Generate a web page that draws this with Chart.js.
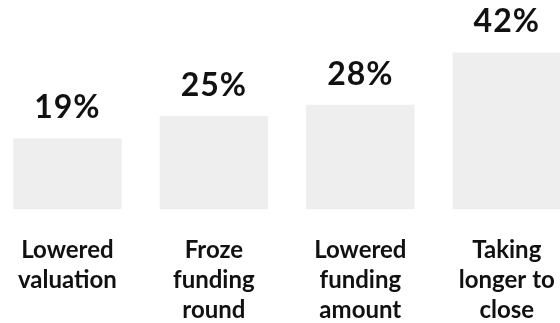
<!DOCTYPE html>
<html>
<head>
<meta charset="utf-8">
<script src="https://cdn.jsdelivr.net/npm/chart.js@4.4.1/dist/chart.umd.min.js"></script>
<style>
  html, body { margin: 0; padding: 0; background: #ffffff; overflow: hidden; }
  body { width: 560px; height: 323px; position: relative; }
  #wrap { position: absolute; left: -7px; top: 0; width: 587px; height: 351px; }
</style>
</head>
<body>
<div id="wrap"><canvas id="chart"></canvas></div>
<script>
// Reasons cited for fundraising trouble, share of respondents (%)
const categories = [
  ["Lowered", "valuation"],
  ["Froze", "funding", "round"],
  ["Lowered", "funding", "amount"],
  ["Taking", "longer to", "close"]
];
const shares = [19, 25, 28, 42];
const shareLabels = shares.map(v => v + "%");

// Percentage printed above each bar
const valueLabels = {
  id: "valueLabels",
  afterDatasetsDraw(chart) {
    const ctx = chart.ctx;
    const meta = chart.getDatasetMeta(0);
    ctx.save();
    ctx.font = "bold 32px Lato";
    ctx.letterSpacing = "1px";
    ctx.fillStyle = "#111111";
    ctx.textAlign = "center";
    ctx.textBaseline = "alphabetic";
    meta.data.forEach((bar, i) => {
      ctx.fillText(shareLabels[i], bar.x, bar.y - 20);
    });
    ctx.restore();
  }
};

new Chart(document.getElementById("chart"), {
  type: "bar",
  data: {
    labels: categories,
    datasets: [{
      data: shares,
      backgroundColor: "#eeeeee",
      borderWidth: 0,
      barPercentage: 0.74,
      categoryPercentage: 1.0
    }]
  },
  options: {
    responsive: true,
    maintainAspectRatio: false,
    animation: false,
    layout: { padding: 0 },
    plugins: {
      legend: { display: false },
      tooltip: { enabled: false }
    },
    scales: {
      x: {
        grid: { display: false, drawTicks: false },
        border: { display: false },
        ticks: {
          color: "#111111",
          font: { family: "Lato", size: 24, weight: "bold", lineHeight: 1.27 },
          padding: 25,
          maxRotation: 0,
          autoSkip: false
        }
      },
      y: {
        display: false,
        min: 0,
        max: 56
      }
    }
  },
  plugins: [valueLabels]
});
</script>
</body>
</html>
